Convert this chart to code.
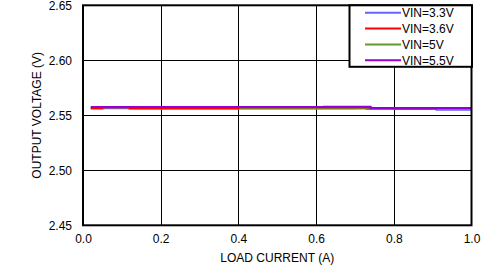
<!DOCTYPE html>
<html>
<head>
<meta charset="utf-8">
<script src="https://cdn.jsdelivr.net/npm/d3@7"></script>
<style>
  body { margin: 0; background: #fff; }
  text { font-family: 'Liberation Sans', Arial, sans-serif; font-size: 12px; fill: #000; }
</style>
</head>
<body>
<script>
// Data
const current = [0.02, 0.05, 0.1, 0.12, 0.15, 0.2, 0.25, 0.3, 0.35, 0.4, 0.45, 0.5, 0.55,
  0.6, 0.62, 0.65, 0.7, 0.73, 0.74, 0.8, 0.85, 0.9, 0.91, 0.95, 1.0];
const vin33 = [2.5563, 2.5563, 2.5563, 2.5562, 2.5562, 2.5562, 2.5562, 2.5562, 2.5562, 2.5562,
  2.5562, 2.5562, 2.5562, 2.5562, 2.5562, 2.5562, 2.5562, 2.5557, 2.5557, 2.5557, 2.5557,
  2.5557, 2.5551, 2.5551, 2.5551];
const vin36 = [2.5563, 2.5574, 2.5574, 2.5563, 2.5563, 2.5563, 2.5563, 2.5563, 2.5563, 2.5574,
  2.5574, 2.5574, 2.5574, 2.5574, 2.5574, 2.5574, 2.5574, 2.5574, 2.5566, 2.5562, 2.5562,
  2.5562, 2.5566, 2.5566, 2.5566];
const vin5 = [2.5564, 2.5574, 2.5574, 2.5564, 2.5564, 2.5564, 2.5564, 2.5564, 2.5564, 2.5564,
  2.5564, 2.5564, 2.5564, 2.5564, 2.5564, 2.5564, 2.5566, 2.5566, 2.5566, 2.5564, 2.5564,
  2.5564, 2.5564, 2.5564, 2.5564];
const vin55 = [2.5575, 2.5575, 2.5575, 2.5575, 2.5575, 2.5575, 2.5575, 2.5575, 2.5575, 2.5575,
  2.5575, 2.5575, 2.5575, 2.5575, 2.5577, 2.5577, 2.5577, 2.5577, 2.5566, 2.5566, 2.5566,
  2.5566, 2.5566, 2.5566, 2.5566];
const seriesNames = ['VIN=3.3V', 'VIN=3.6V', 'VIN=5V', 'VIN=5.5V'];
const seriesColors = ['#6464ff', '#ff0000', '#5f9a2e', '#9400d3'];
const xTicks = [0, 0.2, 0.4, 0.6, 0.8, 1.0];
const yTicks = [2.45, 2.5, 2.55, 2.6, 2.65];

const width = 490;
const height = 267;
const margin = { top: 5.3, right: 18.5, bottom: 41.7, left: 83 };

const svg = d3
  .select('body')
  .append('svg')
  .attr('width', width)
  .attr('height', height);

const x = d3
  .scaleLinear()
  .domain([0, 1])
  .range([margin.left, width - margin.right]);
const y = d3
  .scaleLinear()
  .domain([2.45, 2.65])
  .range([height - margin.bottom, margin.top]);

// Grid lines
svg
  .append('g')
  .selectAll('line')
  .data(xTicks.slice(1, -1))
  .enter()
  .append('line')
  .attr('x1', (d) => Math.round(x(d)) + 0.5)
  .attr('x2', (d) => Math.round(x(d)) + 0.5)
  .attr('y1', y(2.45))
  .attr('y2', y(2.65))
  .attr('stroke', '#000')
  .attr('stroke-width', 1);

svg
  .append('g')
  .selectAll('line')
  .data(yTicks.slice(1, -1))
  .enter()
  .append('line')
  .attr('x1', x(0))
  .attr('x2', x(1))
  .attr('y1', (d) => Math.round(y(d)) + 0.5)
  .attr('y2', (d) => Math.round(y(d)) + 0.5)
  .attr('stroke', '#000')
  .attr('stroke-width', 1);

// Series, drawn 3.3V, 5V, 3.6V, 5.5V so the purple one ends up on top
const series = [vin33, vin5, vin36, vin55];
const seriesOrder = [0, 2, 1, 3];
const line = d3
  .line()
  .x((d, i) => x(current[i]))
  .y((d) => y(d))
  .curve(d3.curveStepAfter);

svg
  .append('g')
  .selectAll('path')
  .data(series)
  .enter()
  .append('path')
  .attr('d', (d) => line(d))
  .attr('fill', 'none')
  .attr('stroke', (d, i) => seriesColors[seriesOrder[i]])
  .attr('stroke-width', 2);

// Plot border
svg
  .append('rect')
  .attr('x', x(0))
  .attr('y', y(2.65))
  .attr('width', x(1) - x(0))
  .attr('height', y(2.45) - y(2.65))
  .attr('fill', 'none')
  .attr('stroke', '#000')
  .attr('stroke-width', 2);

// Tick labels
const xAxis = d3
  .axisBottom(x)
  .tickValues(xTicks)
  .tickSize(0)
  .tickPadding(9)
  .tickFormat(d3.format('.1f'));
svg
  .append('g')
  .attr('transform', `translate(0, ${y(2.45)})`)
  .call(xAxis)
  .call((g) => g.select('.domain').remove())
  .selectAll('text')
  .attr('font-family', null)
  .attr('font-size', null);

const yAxis = d3
  .axisLeft(y)
  .tickValues(yTicks)
  .tickSize(0)
  .tickPadding(11)
  .tickFormat(d3.format('.2f'));
svg
  .append('g')
  .attr('transform', `translate(${x(0)}, 0)`)
  .call(yAxis)
  .call((g) => g.select('.domain').remove())
  .selectAll('text')
  .attr('font-family', null)
  .attr('font-size', null);

svg
  .append('text')
  .attr('x', x(0.5))
  .attr('y', 262)
  .attr('text-anchor', 'middle')
  .text('LOAD CURRENT (A)');

svg
  .append('text')
  .attr('transform', `translate(41, ${y(2.55)}) rotate(-90)`)
  .attr('text-anchor', 'middle')
  .text('OUTPUT VOLTAGE (V)');

// Legend
const legend = svg.append('g').attr('transform', 'translate(349.5, 5.3)');
legend
  .append('rect')
  .attr('width', 122.5)
  .attr('height', 61.5)
  .attr('fill', '#fff')
  .attr('stroke', '#000')
  .attr('stroke-width', 2);

const rows = legend
  .selectAll('g')
  .data(seriesNames)
  .enter()
  .append('g')
  .attr('transform', (d, i) => `translate(0, ${7.5 + i * 15.8})`);
rows
  .append('line')
  .attr('x1', 15.5)
  .attr('x2', 51.5)
  .attr('stroke', (d, i) => seriesColors[i])
  .attr('stroke-width', 2);
rows
  .append('text')
  .attr('x', 52.5)
  .attr('dy', '0.36em')
  .text((d) => d);
</script>
</body>
</html>
